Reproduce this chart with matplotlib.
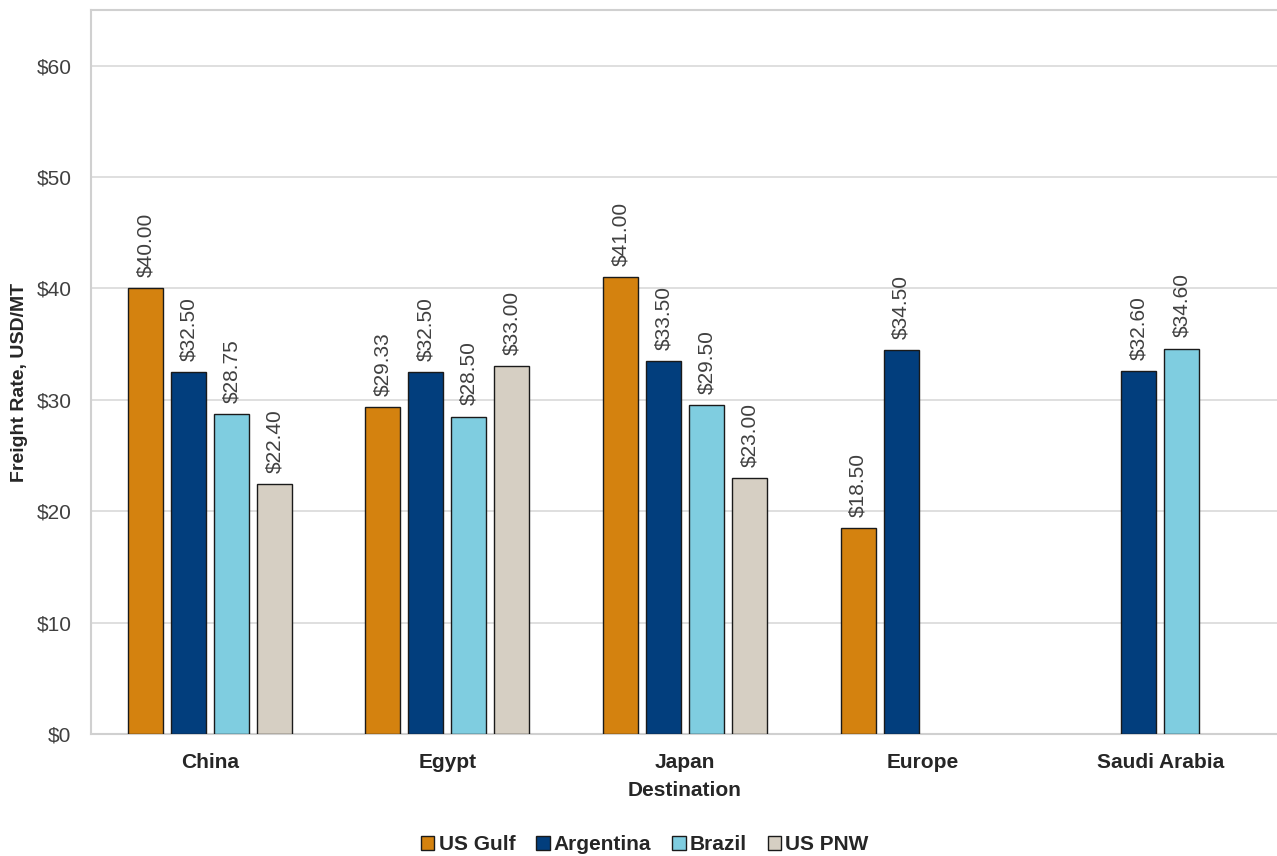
import numpy as np
import matplotlib
matplotlib.use("Agg")
import matplotlib.pyplot as plt

# data
destinations = ["China", "Egypt", "Japan", "Europe", "Saudi Arabia"]
us_gulf = [40.00, 29.33, 41.00, 18.50, np.nan]
argentina = [32.50, 32.50, 33.50, 34.50, 32.60]
brazil = [28.75, 28.50, 29.50, np.nan, 34.60]
us_pnw = [22.40, 33.00, 23.00, np.nan, np.nan]

series_names = ["US Gulf", "Argentina", "Brazil", "US PNW"]
series_values = [us_gulf, argentina, brazil, us_pnw]
series_colors = ["#D4820F", "#023E7D", "#7FCDE0", "#D6CFC3"]

y_ticks = [0, 10, 20, 30, 40, 50, 60]

plt.rcParams.update({
    "font.family": ["Liberation Sans", "DejaVu Sans"],
    "font.size": 15,
})

fig = plt.figure(figsize=(12.77, 8.56), dpi=100)
ax = fig.add_axes([91 / 1277, 1 - 734 / 856, 1188 / 1277, 724 / 856])

x = np.arange(len(destinations))
step = 0.181
width = 0.148

for i, (name, vals, col) in enumerate(zip(series_names, series_values, series_colors)):
    offset = (i - 1.5) * step
    bars = ax.bar(
        x + offset, vals,
        width=width,
        color=col,
        edgecolor="#1a1a1a",
        linewidth=1.0,
        label=name,
        zorder=3,
    )
    labels = ["" if np.isnan(v) else f"${v:.2f}" for v in vals]
    ax.bar_label(
        bars, labels=labels,
        padding=8,
        rotation=90,
        fontsize=15,
        color="#404040",
    )

# x-axis
ax.set_xlim(-0.5, 4.5)
ax.set_xticks(x, labels=destinations, fontweight="bold", color="#262626")
ax.set_xlabel("Destination", fontweight="bold", color="#262626", labelpad=6)
ax.tick_params(axis="x", length=0, pad=14)

# y-axis
ax.set_ylim(0, 65)
ax.set_yticks(y_ticks, labels=[f"${v}" for v in y_ticks], color="#404040")
ax.tick_params(axis="y", length=0, pad=14)
ax.set_ylabel("Freight Rate, USD/MT", fontweight="bold", fontsize=14, color="#262626")
ax.yaxis.set_label_coords(-0.053, 0.485)

# grid & spines
ax.grid(axis="y", color="#D9D9D9", linewidth=1.2, zorder=0)
for side in ["left", "top", "bottom"]:
    ax.spines[side].set_color("#D0D0D0")
    ax.spines[side].set_linewidth(1.5)
ax.spines["right"].set_visible(False)

fig.legend(
    loc="lower center",
    bbox_to_anchor=(0.505, -0.02),
    ncol=4,
    frameon=False,
    handlelength=0.65,
    handleheight=0.65,
    handletextpad=0.2,
    columnspacing=1.0,
    prop={"weight": "bold", "size": 15},
    labelcolor="#262626",
)

fig.savefig("out.png", dpi=100)
